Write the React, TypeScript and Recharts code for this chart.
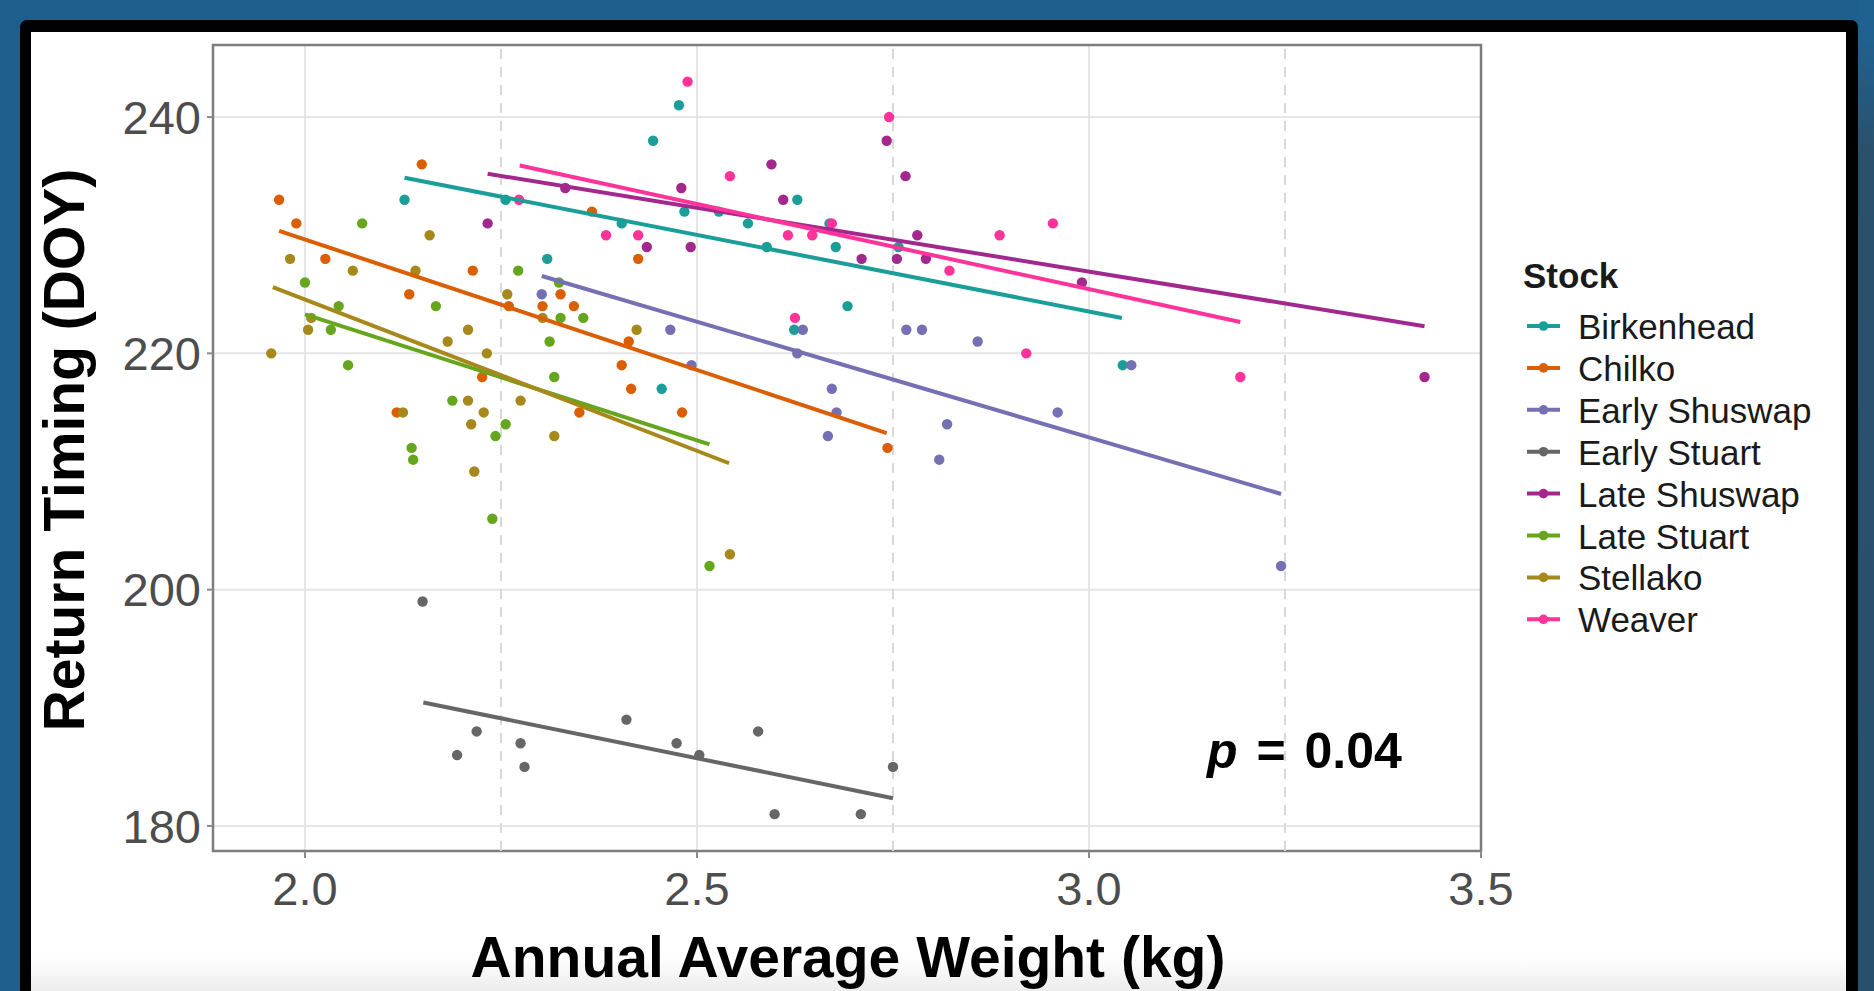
import React from 'react';
import {
  ScatterChart,
  Scatter,
  XAxis,
  YAxis,
  CartesianGrid,
  ReferenceLine,
  ReferenceArea,
} from 'recharts';

// ---------- data ----------
const STOCKS = ['Birkenhead', 'Chilko', 'Early Shuswap', 'Early Stuart', 'Late Shuswap', 'Late Stuart', 'Stellako', 'Weaver'];
const STOCK_COLORS = ['#1b9e98', '#d95f02', '#7570b3', '#666666', '#a3288e', '#66a61e', '#a6891a', '#ff3399'];

const birkenheadWeight = [2.477, 2.444, 2.127, 2.256, 2.628, 2.484, 2.528, 2.404, 2.565, 2.669, 2.589, 2.677, 2.309, 2.692, 2.624, 2.455, 3.043, 2.757];
const birkenheadDOY = [241, 238, 233, 233, 233, 232, 232, 231, 231, 231, 229, 229, 228, 224, 222, 217, 219, 229];

const chilkoWeight = [2.149, 1.967, 2.366, 1.989, 2.026, 2.425, 2.214, 2.133, 2.326, 2.26, 2.303, 2.343, 2.413, 2.404, 2.226, 2.416, 2.117, 2.35, 2.481, 2.743];
const chilkoDOY = [236, 233, 232, 231, 228, 228, 227, 225, 225, 224, 224, 224, 221, 219, 218, 217, 215, 215, 215, 212];

const earlyShuswapWeight = [2.302, 2.466, 2.493, 2.628, 2.635, 2.667, 2.672, 2.678, 2.767, 2.787, 2.809, 2.819, 2.858, 2.96, 3.054, 3.245];
const earlyShuswapDOY = [225, 222, 219, 220, 222, 213, 217, 215, 222, 222, 211, 214, 221, 215, 219, 202];

const earlyStuartWeight = [2.15, 2.41, 2.219, 2.578, 2.275, 2.474, 2.194, 2.503, 2.28, 2.75, 2.599, 2.709];
const earlyStuartDOY = [199, 189, 188, 188, 187, 187, 186, 186, 185, 185, 181, 181];

const lateShuswapWeight = [2.742, 2.595, 2.766, 2.48, 2.332, 2.61, 2.233, 2.781, 2.436, 2.492, 2.71, 2.755, 2.792, 2.991, 3.428];
const lateShuswapDOY = [238, 236, 235, 234, 234, 233, 231, 230, 229, 229, 228, 228, 228, 226, 218];

const lateStuartWeight = [2.073, 2.0, 2.272, 2.324, 2.043, 2.167, 2.326, 2.355, 2.033, 2.312, 2.055, 2.318, 2.188, 2.256, 2.243, 2.136, 2.138, 2.239, 2.516];
const lateStuartDOY = [231, 226, 227, 226, 224, 224, 223, 223, 222, 221, 219, 218, 216, 214, 213, 212, 211, 206, 202];

const stellakoWeight = [2.159, 1.981, 2.061, 2.141, 2.258, 2.303, 2.208, 2.423, 2.004, 2.008, 2.182, 1.957, 2.232, 2.208, 2.275, 2.125, 2.228, 2.212, 2.318, 2.216, 2.542];
const stellakoDOY = [230, 228, 227, 227, 225, 223, 222, 222, 222, 223, 221, 220, 220, 216, 216, 215, 215, 214, 213, 210, 203];

const weaverWeight = [2.488, 2.745, 2.542, 2.273, 2.384, 2.425, 2.616, 2.647, 2.672, 2.886, 2.954, 2.822, 2.625, 2.92, 3.193];
const weaverDOY = [243, 240, 235, 233, 230, 230, 230, 230, 231, 230, 231, 227, 223, 220, 218];

// fitted regression segments (start / end), per stock in STOCKS order
const fitStartWeight = [2.127, 1.967, 2.302, 2.151, 2.233, 2.0, 1.959, 2.274];
const fitStartDOY = [234.86, 230.37, 226.55, 190.45, 235.2, 223.3, 225.6, 235.9];
const fitEndWeight = [3.042, 2.742, 3.245, 2.75, 3.428, 2.516, 2.541, 3.193];
const fitEndDOY = [223.0, 213.25, 208.1, 182.35, 222.3, 212.3, 210.7, 222.65];

const X_TICKS = [2.0, 2.5, 3.0, 3.5];
const X_MINOR_TICKS = [2.25, 2.75, 3.25];
const Y_TICKS = [180, 200, 220, 240];
const X_DOMAIN: [number, number] = [1.8827, 3.5];
const Y_DOMAIN: [number, number] = [177.88, 246.1];

const X_TITLE = 'Annual Average Weight (kg)';
const Y_TITLE = 'Return Timing (DOY)';
const LEGEND_TITLE = 'Stock';
const P_LABEL = 'p';
const P_VALUE = ' = 0.04';

const WEIGHTS = [birkenheadWeight, chilkoWeight, earlyShuswapWeight, earlyStuartWeight, lateShuswapWeight, lateStuartWeight, stellakoWeight, weaverWeight];
const DOYS = [birkenheadDOY, chilkoDOY, earlyShuswapDOY, earlyStuartDOY, lateShuswapDOY, lateStuartDOY, stellakoDOY, weaverDOY];

const FONT = "'Liberation Sans', Arial, Helvetica, sans-serif";

const series = STOCKS.map((name, i) => ({
  name,
  color: STOCK_COLORS[i],
  points: WEIGHTS[i].map((w, j) => ({ x: w, y: DOYS[i][j] })),
  fit: [
    { x: fitStartWeight[i], y: fitStartDOY[i] },
    { x: fitEndWeight[i], y: fitEndDOY[i] },
  ],
}));

export default function App() {
  return (
    <div
      style={{
        position: 'absolute',
        left: 0,
        top: 0,
        width: 1874,
        height: 991,
        overflow: 'hidden',
        background: '#1f5f8d',
        fontFamily: FONT,
      }}
    >
      <div
        style={{
          position: 'absolute',
          left: 1858,
          top: 0,
          width: 16,
          height: 991,
          background: 'linear-gradient(to bottom, #1f6191 0px, #1f6191 40px, #2a516c 150px, #27506d 991px)',
        }}
      />
      <div style={{ position: 'absolute', left: 20, top: 20, width: 1838, height: 1010, background: '#000', borderRadius: 7 }} />
      <div
        style={{
          position: 'absolute',
          left: 31,
          top: 32,
          width: 1815,
          height: 959,
          background: 'linear-gradient(to bottom, #ffffff 0px, #ffffff 925px, #ececec 959px)',
        }}
      />
      <div style={{ position: 'absolute', left: 0, top: 0 }}>
        <ScatterChart width={1874} height={991} margin={{ top: 45, right: 393, bottom: 80, left: 0 }}>
          <CartesianGrid stroke="#e6e6e6" strokeWidth={2} fill="none" />
          {X_MINOR_TICKS.map((v) => (
            <ReferenceLine key={v} x={v} stroke="#d8d8d8" strokeWidth={2} strokeDasharray="10 8" ifOverflow="visible" />
          ))}
          <XAxis
            type="number"
            dataKey="x"
            domain={X_DOMAIN}
            ticks={X_TICKS}
            interval={0}
            allowDataOverflow
            tickFormatter={(v: number) => v.toFixed(1)}
            height={60}
            axisLine={false}
            tickLine={{ stroke: '#8a8a8a', strokeWidth: 2 }}
            tickSize={7}
            tickMargin={14}
            tick={{ fill: '#4d4d4d', fontSize: 47, fontFamily: FONT }}
          />
          <YAxis
            type="number"
            dataKey="y"
            domain={Y_DOMAIN}
            ticks={Y_TICKS}
            interval={0}
            allowDataOverflow
            width={213}
            axisLine={false}
            tickLine={{ stroke: '#8a8a8a', strokeWidth: 2 }}
            tickSize={6}
            tickMargin={6}
            tick={{ fill: '#4d4d4d', fontSize: 47, fontFamily: FONT }}
          />
          {series.map((s) => (
            <Scatter
              key={'pts-' + s.name}
              name={s.name}
              data={s.points}
              fill={s.color}
              isAnimationActive={false}
              shape={(p: any) => <circle cx={p.cx} cy={p.cy} r={5.2} fill={s.color} />}
            />
          ))}
          {series.map((s) => (
            <Scatter
              key={'fit-' + s.name}
              name={s.name + ' fit'}
              data={s.fit}
              fill={s.color}
              legendType="none"
              isAnimationActive={false}
              line={{ stroke: s.color, strokeWidth: 4 }}
              shape={() => <g />}
            />
          ))}
          <ReferenceArea
            x1={X_DOMAIN[0]}
            x2={X_DOMAIN[1]}
            y1={Y_DOMAIN[0]}
            y2={Y_DOMAIN[1]}
            fill="none"
            fillOpacity={0}
            stroke="#7d7d7d"
            strokeWidth={2.5}
            ifOverflow="visible"
          />
        </ScatterChart>
      </div>
      <svg
        width={1874}
        height={991}
        style={{ position: 'absolute', left: 0, top: 0, pointerEvents: 'none' }}
        fontFamily={FONT}
      >
        <text
          x={84}
          y={450}
          transform="rotate(-90, 84, 450)"
          textAnchor="middle"
          fontSize={57}
          fontWeight="bold"
          fill="#000"
        >
          {Y_TITLE}
        </text>
        <text x={848} y={977} textAnchor="middle" fontSize={57} fontWeight="bold" fill="#000">
          {X_TITLE}
        </text>
        <text x={1207} y={768} fontSize={50} fontWeight="bold" fill="#000" wordSpacing={5}>
          <tspan fontStyle="italic">{P_LABEL}</tspan>
          <tspan>{P_VALUE}</tspan>
        </text>
        <text x={1523} y={288} fontSize={35} fontWeight="bold" fill="#1a1a1a">
          {LEGEND_TITLE}
        </text>
        {series.map((s, i) => {
          const base = 339 + i * 41.9;
          return (
            <g key={'leg-' + s.name}>
              <line x1={1527} x2={1560} y1={base - 13} y2={base - 13} stroke={s.color} strokeWidth={4} />
              <circle cx={1543.5} cy={base - 13} r={4.8} fill={s.color} />
              <text x={1578} y={base} fontSize={35} fill="#1a1a1a">
                {s.name}
              </text>
            </g>
          );
        })}
      </svg>
    </div>
  );
}
